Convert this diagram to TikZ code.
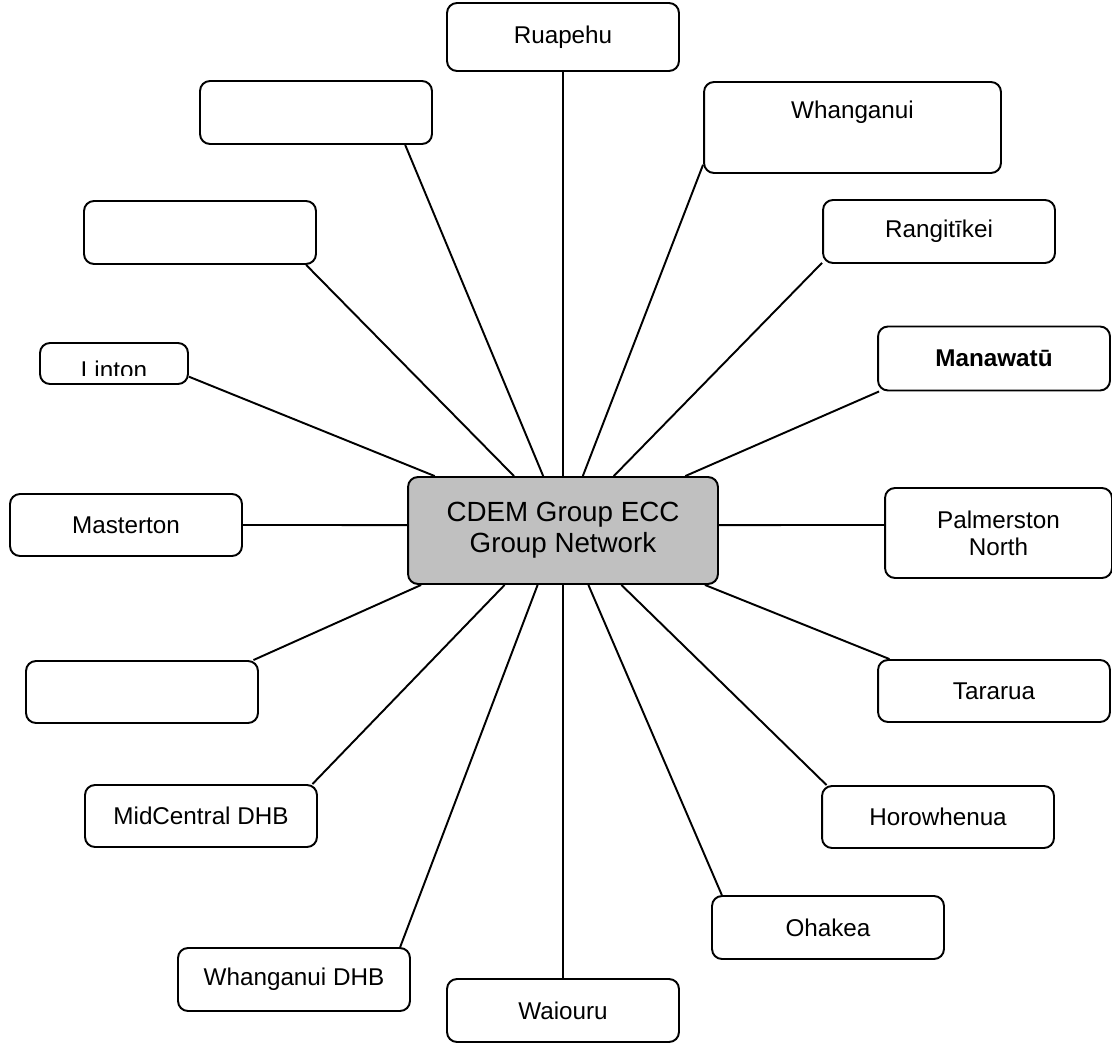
\documentclass[tikz,border=0pt]{standalone}
\usepackage{fontspec}
\setmainfont{Liberation Sans}
\definecolor{hubgray}{RGB}{192,192,192}
\newcommand{\spokefont}{\fontsize{13.8}{15.5}\selectfont}
\begin{document}
\begin{tikzpicture}[x=0.02cm, y=-0.02cm,
    box/.style={draw, rounded corners=0.2cm, line width=1.1pt, fill=white,
        minimum width=4.64cm, minimum height=1.26cm, inner sep=0pt,
        font=\spokefont, align=center},
    hub/.style={box, fill=hubgray, minimum width=6.2cm, minimum height=2.14cm,
        font=\fontsize{15.8}{17.5}\selectfont},
    link/.style={line width=1.1pt}]
    \useasboundingbox (0,0) rectangle (1112,1043);

    % Hub
    \node[hub] (cdem) at (563,530.5) {CDEM Group ECC\\Group Network};

    % Boxes round the hub
    \node[box, minimum height=1.36cm] (ruapehu) at (563,37) {Ruapehu};
    \node[box] (blanktop) at (316,112.5) {};
    \node[box, minimum width=5.94cm, minimum height=1.82cm,
        label={[font=\spokefont, yshift=0.31cm]center:Whanganui}] (whanganui) at (852.5,127.5) {};
    \node[box] (blankmid) at (200,232.5) {};
    \node[box] (rangitikei) at (939,231.5) {Rangitīkei};
    \node[box, minimum width=2.96cm, minimum height=0.82cm,
        path picture={
            \clip ([yshift=0.16cm]path picture bounding box.south west)
                rectangle (path picture bounding box.north east);
            \node[font=\spokefont] at ([yshift=-0.12cm]path picture bounding box.center) {Linton};
        }] (linton) at (114,363.5) {};
    \node[box, minimum height=1.28cm, font=\spokefont\bfseries] (manawatu) at (994,358.5) {Manawatū};
    \node[box, minimum height=1.24cm] (masterton) at (126,525) {Masterton};
    \node[box, minimum width=4.54cm, minimum height=1.8cm] (palmerston) at (998.5,533) {Palmerston\\North};
    \node[box, minimum height=1.24cm] (blanklow) at (142,692) {};
    \node[box, minimum height=1.24cm] (tararua) at (994,691) {Tararua};
    \node[box, minimum height=1.24cm] (midcentral) at (201,816) {MidCentral DHB};
    \node[box, minimum height=1.24cm] (horowhenua) at (938,817) {Horowhenua};
    \node[box] (ohakea) at (828,927.5) {Ohakea};
    \node[box] (whanganuidhb) at (294,979.5) {Whanganui DHB};
    \node[box] (waiouru) at (563,1010.5) {Waiouru};

    % Spokes above the hub
    \draw[link] (ruapehu.south) -- (cdem.north);
    \draw[link] (blanktop.-20.6) -- (cdem.110.5);
    \draw[link] (whanganui.194.9) -- (cdem.70.45);
    \draw[link] (blankmid.-17.3) -- (cdem.132.5);
    \draw[link] (rangitikei.195.84) -- (cdem.47.5);
    \draw[link] (linton.-10.3) -- (cdem.157);
    \draw[link] (manawatu.196.4) -- (cdem.24.6);

    % Spokes at the sides
    \draw[link] (masterton.east) -- (cdem.178);
    \draw[link] (cdem.2) -- (palmerston.176);

    % Spokes below the hub
    \draw[link] (blanklow.16.2) -- (cdem.201.9);
    \draw[link] (tararua.163.7) -- (cdem.-21.3);
    \draw[link] (midcentral.16.6) -- (cdem.223.2);
    \draw[link] (horowhenua.164.5) -- (cdem.-43.2);
    \draw[link] (whanganuidhb.17.8) -- (cdem.245.8);
    \draw[link] (ohakea.163.7) -- (cdem.-65.8);
    \draw[link] (cdem.south) -- (waiouru.north);
\end{tikzpicture}
\end{document}
